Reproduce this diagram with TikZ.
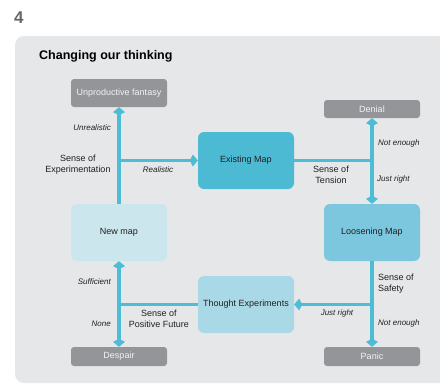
\documentclass[tikz,border=0pt]{standalone}
\usepackage{fontspec}
\setmainfont{Liberation Sans}
\usetikzlibrary{arrows.meta}
\definecolor{panel}{HTML}{E6E7E8}
\definecolor{grayb}{HTML}{939598}
\definecolor{arr}{HTML}{4DBDD6}
\definecolor{cexist}{HTML}{4CBAD3}
\definecolor{cnew}{HTML}{CCE6EE}
\definecolor{cloose}{HTML}{7DC7DE}
\definecolor{cthought}{HTML}{A9D9E7}
\definecolor{txt}{HTML}{231F20}
\tikzset{
  bigbox/.style={rounded corners=6pt, minimum width=96pt, minimum height=57pt, inner sep=0pt, font=\fontsize{9}{10}\selectfont, text=txt},
  graybox/.style={rounded corners=3pt, fill=grayb, minimum width=96pt, inner sep=0pt, text=white!88!grayb, font=\fontsize{9}{10}\selectfont},
  conn/.style={draw=arr, line width=3.5pt},
  tip/.style={-{Kite[length=8pt,width=12pt,inset=3pt]}},
  tips/.style={{Kite[length=8pt,width=12pt,inset=3pt]}-{Kite[length=8pt,width=12pt,inset=3pt]}},
  lbl/.style={font=\fontsize{9}{11}\selectfont, text=txt, inner sep=0pt, align=center},
  ital/.style={font=\fontsize{8}{9}\selectfont\itshape, text=txt, inner sep=0pt},
}
\begin{document}
\begin{tikzpicture}[x=1pt,y=-1pt]
\useasboundingbox (0,0) rectangle (440,384);
\clip (0,0) rectangle (440,384);
\fill[panel, rounded corners=9pt] (15,36) rectangle (460,383);
\node[font=\bfseries\fontsize{17}{18}\selectfont, text=black!60, anchor=west, inner sep=0pt] (num) at (14,18) {4};
\node[font=\bfseries\fontsize{12.5}{14}\selectfont, anchor=west, inner sep=0pt] (title) at (39,56) {Changing our thinking};
% boxes
\node[graybox, minimum height=28pt] (uf) at (119,93) {Unproductive fantasy};
\node[graybox, minimum height=18pt] (den) at (372,109) {Denial};
\node[bigbox, fill=cexist] (em) at (246,160.5) {Existing Map};
\node[bigbox, fill=cnew] (nm) at (119,232.5) {New map};
\node[bigbox, fill=cloose] (lm) at (372,232.5) {Loosening Map};
\node[bigbox, fill=cthought] (te) at (246,304.5) {Thought Experiments};
\node[graybox, minimum height=19pt] (des) at (119,356.5) {Despair};
\node[graybox, minimum height=19pt] (pan) at (372,356.5) {Panic};
% junctions
\coordinate (j1) at (nm.north |- em.west);
\coordinate (j2) at (den.south |- em.east);
\coordinate (j3) at (lm.south |- te.east);
\coordinate (j4) at (nm.south |- te.west);
% connectors
\draw[conn, tip] (nm.north) -- (uf.south);
\draw[conn, tip] (j1) -- (em.west);
\draw[conn] (em.east) -- (j2);
\draw[conn, tips] (den.south) -- (lm.north);
\draw[conn, tip] (lm.south) -- (pan.north);
\draw[conn, tip] (j3) -- (te.east);
\draw[conn, tips] (des.north) -- (nm.south);
\draw[conn] (te.west) -- (j4);
% labels
\node[lbl] (l1) at (78,164.5) {Sense of\\Experimentation};
\node[ital, anchor=east] (l2) at (111,128) {Unrealistic};
\node[ital] (l3) at (158,169.5) {Realistic};
\node[ital, anchor=west] (l4) at (378,143) {Not enough};
\node[ital, anchor=west] (l5) at (377,179) {Just right};
\node[lbl] (l6) at (331,175) {Sense of\\Tension};
\node[lbl, align=left, anchor=west] (l7) at (378,283.5) {Sense of\\Safety};
\node[ital] (l8) at (337,313) {Just right};
\node[ital, anchor=west] (l9) at (378,323) {Not enough};
\node[ital, anchor=east] (l10) at (111,282) {Sufficient};
\node[ital, anchor=east] (l11) at (111,324) {None};
\node[lbl] (l12) at (159,318.5) {Sense of\\Positive Future};
\end{tikzpicture}
\end{document}
